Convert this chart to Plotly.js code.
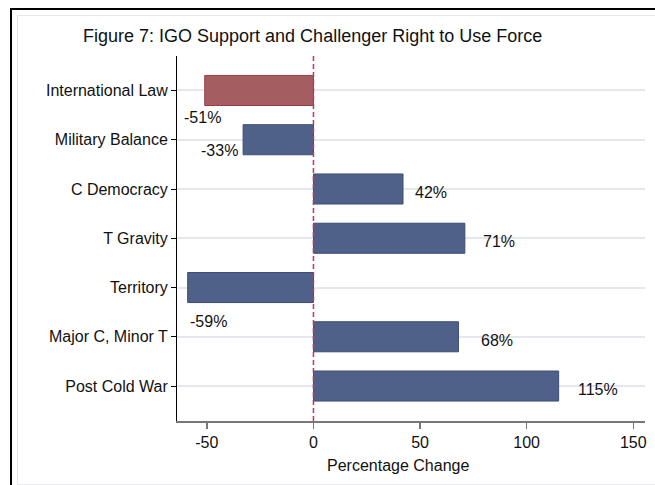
<!DOCTYPE html>
<html>
<head>
<meta charset="utf-8">
<script src="https://cdn.plot.ly/plotly-3.0.1.min.js"></script>
<style>
  html, body { margin: 0; padding: 0; background: #fff; }
  #wrap { position: relative; width: 655px; height: 485px; overflow: hidden; }
  #chart { position: absolute; left: 0; top: 0; width: 655px; height: 485px; }
  .frame-outer { position: absolute; left: 10px; top: 8px; width: 700px; height: 600px;
    border-left: 2px solid #000; border-top: 2px solid #000; pointer-events: none; }
  .frame-inner { position: absolute; left: 17px; top: 15px; width: 700px; height: 468px;
    border-left: 1px solid #e6e8ee; border-top: 1px solid #e6e8ee; border-bottom: 1px solid #e6e8ee; pointer-events: none; }
</style>
</head>
<body>
<div id="wrap">
  <div id="chart"></div>
  <div class="frame-inner"></div>
  <div class="frame-outer"></div>
</div>
<script>
// ---- data ----
const categories = ["International Law", "Military Balance", "C Democracy", "T Gravity",
                    "Territory", "Major C, Minor T", "Post Cold War"];
const pctChange = [-51, -33, 42, 71, -59, 68, 115];
const highlighted = ["International Law"];
const xTickVals = [-50, 0, 50, 100, 150];
const xTickText = ["-50", "0", "50", "100", "150"];

// ---- styling / layout config ----
const FONT = "Liberation Sans, Arial, sans-serif";
const BLUE = "#506189", BLUE_LINE = "#3a4d78";
const RED = "#a45d61", RED_LINE = "#9a3e48";
// label pixel offsets [dx, dy] relative to bar end (dy positive = down)
const labelOffsets = [[-23, 27], [-44, 11], [10, 3], [16, 3], [0, 34], [21, 4], [17, 3]];

const fill = categories.map(c => highlighted.includes(c) ? RED : BLUE);
const line = categories.map(c => highlighted.includes(c) ? RED_LINE : BLUE_LINE);

const trace = {
  type: "bar",
  orientation: "h",
  x: pctChange,
  y: categories,
  base: 0,
  width: 0.61,
  marker: { color: fill, line: { color: line, width: 1 } },
  hoverinfo: "skip"
};

const annotations = categories.map((c, i) => ({
  x: pctChange[i], y: c, xref: "x", yref: "y",
  text: pctChange[i] + "%",
  showarrow: false, xanchor: "left", yanchor: "middle",
  xshift: labelOffsets[i][0], yshift: -labelOffsets[i][1],
  font: { family: FONT, size: 16, color: "#111" }
}));
annotations.push({
  text: "Percentage Change", xref: "paper", yref: "paper",
  x: 0.472, y: -0.123, xanchor: "center", yanchor: "middle", showarrow: false,
  font: { family: FONT, size: 16, color: "#111" }
});

const layout = {
  width: 655, height: 485,
  margin: { l: 177, r: 10, t: 56, b: 64, pad: 0 },
  paper_bgcolor: "rgba(0,0,0,0)", plot_bgcolor: "#fff",
  font: { family: FONT, size: 16, color: "#111" },
  showlegend: false,
  title: {
    text: "Figure 7: IGO Support and Challenger Right to Use Force",
    xref: "container", yref: "container", x: 83 / 655, xanchor: "left",
    y: 1 - 36 / 485, yanchor: "middle",
    font: { family: FONT, size: 18, color: "#111" }
  },
  xaxis: {
    range: [-64, 155.5], tickmode: "array", tickvals: xTickVals, ticktext: xTickText,
    ticks: "outside", ticklen: 6,
    tickcolor: "#777", tickwidth: 1.5, showline: true, linecolor: "#777", linewidth: 1.5,
    showgrid: false, zeroline: false,
    tickfont: { family: FONT, size: 16, color: "#111" }
  },
  yaxis: {
    type: "category", range: [6.71, -0.70], ticks: "outside", ticklen: 5,
    tickcolor: "#000", tickwidth: 1, showline: true, linecolor: "#000", linewidth: 1,
    showgrid: true, gridcolor: "#e4e7f0", gridwidth: 2, zeroline: false,
    tickfont: { family: FONT, size: 16, color: "#111" }
  },
  shapes: [{
    type: "line", xref: "x", yref: "paper", x0: 0, x1: 0, y0: 0, y1: 1,
    line: { color: "#cc3060", width: 1.5, dash: "5px,3px" }
  }],
  annotations: annotations
};

Plotly.newPlot("chart", [trace], layout, { staticPlot: true, displayModeBar: false });
</script>
</body>
</html>
